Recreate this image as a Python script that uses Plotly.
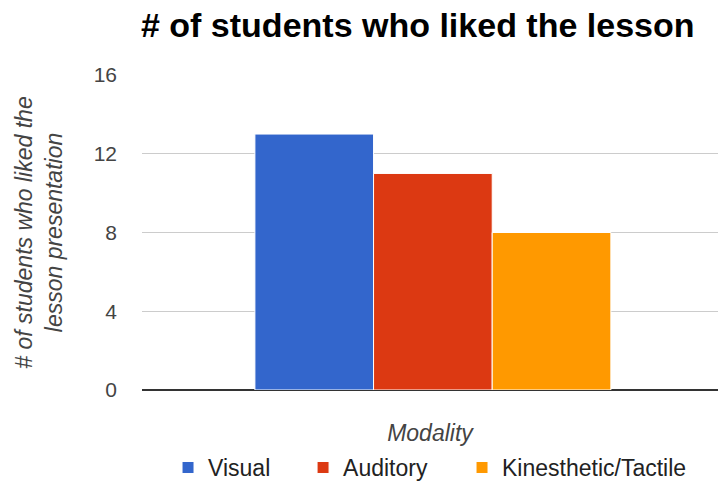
import plotly.graph_objects as go

categories = ["Visual", "Auditory", "Kinesthetic/Tactile"]
values = [13, 11, 8]
colors = ["#3366CC", "#DC3912", "#FF9900"]
tick_vals = [0, 4, 8, 12, 16]
legend_ids = ["legend", "legend2", "legend3"]
legend_x = [0.2337, 0.4215, 0.6426]  # left edges in container fraction

fig = go.Figure()
for name, v, c, lg in zip(categories, values, colors, legend_ids):
    fig.add_trace(go.Bar(
        x=["Modality"], y=[v], name=name, legend=lg, showlegend=True,
        marker=dict(color=c, line=dict(color="white", width=1)),
    ))

legend_style = dict(orientation="h", xref="container", yref="container",
                    xanchor="left", y=0.03, yanchor="middle",
                    font=dict(size=23, color="#222222"), itemwidth=30,
                    bgcolor="rgba(0,0,0,0)")

fig.update_layout(
    width=719, height=482, showlegend=True,
    margin=dict(l=142, r=1, t=75, b=92, autoexpand=False),
    paper_bgcolor="white", plot_bgcolor="white",
    barmode="group", bargap=0.382, bargroupgap=0.0,
    font=dict(family="Arial, Liberation Sans, sans-serif", color="#444444"),
    title=dict(text="<b># of students who liked the lesson</b>",
               x=0.581, xanchor="center", xref="container",
               y=0.948, yanchor="middle", yref="container",
               font=dict(size=34, color="black")),
    xaxis=dict(showticklabels=False, showgrid=False, zeroline=False,
               range=[-0.505, 0.495],
               title=dict(text="<i>Modality</i>", font=dict(size=23, color="#444444"), standoff=44)),
    yaxis=dict(range=[0, 16], tickvals=tick_vals, ticktext=[str(t) for t in tick_vals],
               showgrid=True, gridcolor="#cccccc", gridwidth=1,
               zeroline=True, zerolinecolor="#333333", zerolinewidth=1.5,
               tickfont=dict(size=21, color="#444444"), ticklabelstandoff=24,
               title=dict(text="<i># of students who liked the<br>lesson presentation</i>",
                          font=dict(size=23, color="#444444"), standoff=24)),
    legend=dict(x=legend_x[0], **legend_style),
    legend2=dict(x=legend_x[1], **legend_style),
    legend3=dict(x=legend_x[2], **legend_style),
)

fig.write_html("out.html")
